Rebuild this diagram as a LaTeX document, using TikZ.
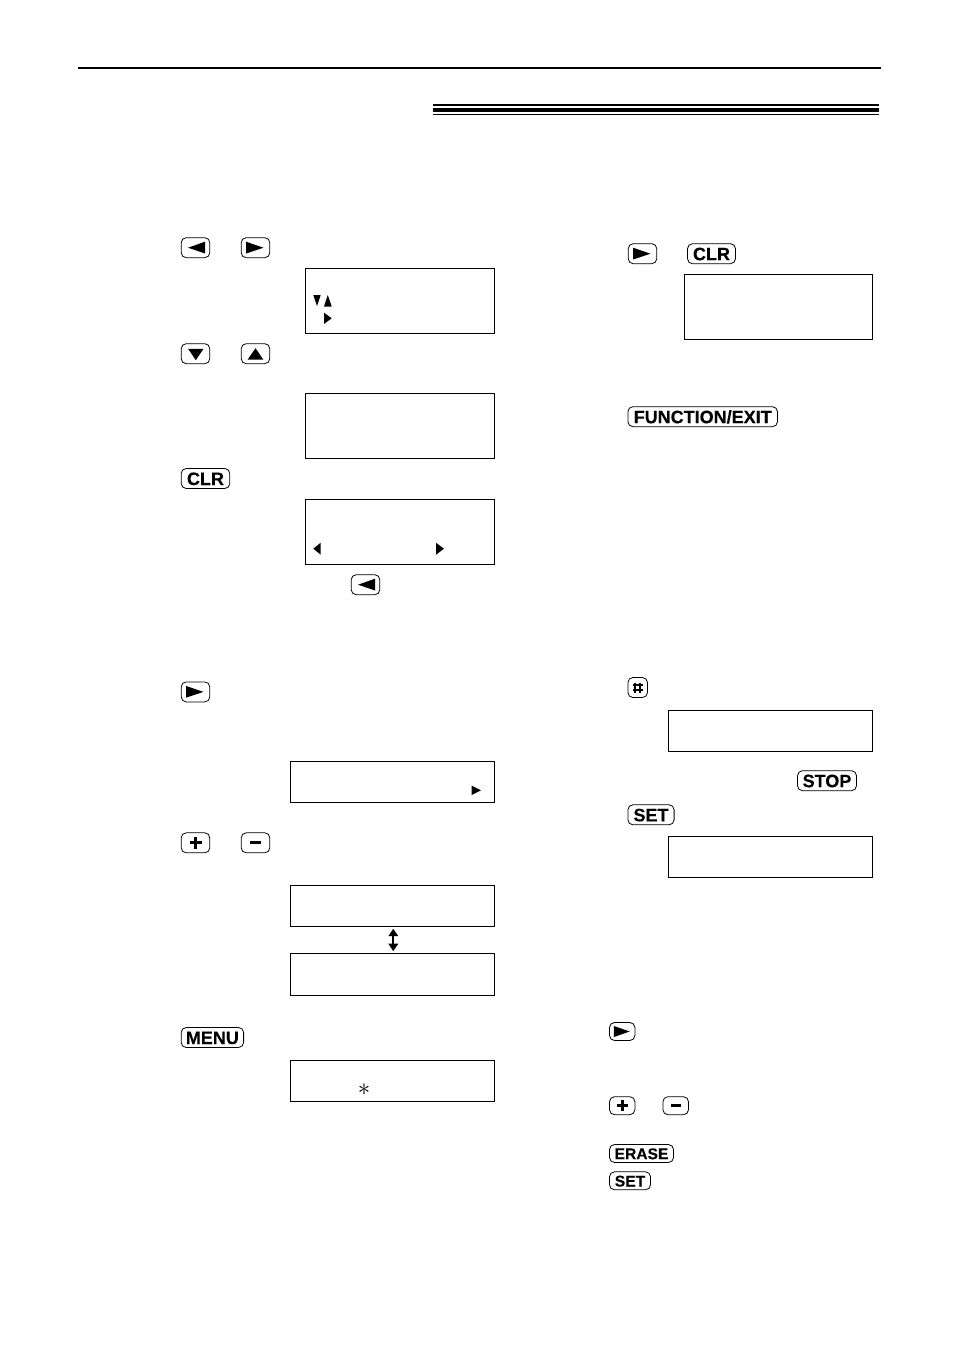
\documentclass[tikz,border=0pt]{standalone}
\usepackage{fontspec}
\setmainfont{Liberation Sans}
\newfontface\keyfont{Liberation Sans Bold}[FakeBold=0.3]
\usetikzlibrary{arrows.meta}

\tikzstyle{lcd}=[draw,line width=1pt,inner sep=0pt]
\tikzstyle{key}=[draw,line width=0.8pt,rounded corners=5pt,inner sep=0pt,minimum height=20pt,text height=13pt,text depth=0pt,font=\fontsize{18}{18}\keyfont]
\tikzstyle{small key}=[key,minimum height=18pt,text height=11.4pt,font=\fontsize{15.6}{16}\keyfont]
\tikzstyle{swap edge}=[draw,line width=2pt,{Triangle[width=9.5pt,length=7.5pt]}-{Triangle[width=9.5pt,length=7.5pt]},shorten <=1.6pt,shorten >=1.6pt]

\begin{document}
\begin{tikzpicture}[x=1pt,y=-1pt]
	\useasboundingbox (0,0) rectangle (954,1349);
	% Rules at the head of the page
	\fill (78,67) rectangle (881,69);
	\fill (433,104) rectangle (879,106);
	\fill (433,108) rectangle (879,112);
	\fill (433,114) rectangle (879,115);
	% First we draw the displays
	\node[lcd,minimum width=189.6pt,minimum height=65.6pt] (lcda) at (399.8,300.8) {};
	\node[lcd,minimum width=189.6pt,minimum height=65.6pt] (lcdb) at (399.8,425.8) {};
	\node[lcd,minimum width=189.6pt,minimum height=65.6pt] (lcdc) at (399.8,531.8) {};
	\node[lcd,minimum width=204.6pt,minimum height=41.6pt] (lcdd) at (392.3,781.8) {};
	\node[lcd,minimum width=204.6pt,minimum height=41.6pt] (lcde) at (392.3,905.8) {};
	\node[lcd,minimum width=204.6pt,minimum height=42.1pt] (lcdf) at (392.3,974.3) {};
	\node[lcd,minimum width=204.6pt,minimum height=41.6pt] (lcdg) at (392.3,1080.8) {};
	\node[lcd,minimum width=188.6pt,minimum height=65.6pt] (lcdh) at (778.3,306.8) {};
	\node[lcd,minimum width=204.6pt,minimum height=41.6pt] (lcdi) at (770.3,730.8) {};
	\node[lcd,minimum width=204.6pt,minimum height=41.6pt] (lcdj) at (770.3,856.8) {};
	% Keys of the left column
	\node[key,minimum width=28.6pt] (keya) at (195.5,247.7) {};
	\node[key,minimum width=28.6pt] (keyb) at (255.5,247.7) {};
	\node[key,minimum width=28.6pt] (keyc) at (195.5,353.7) {};
	\node[key,minimum width=28.6pt] (keyd) at (255.5,353.7) {};
	\node[key,minimum width=48.6pt] (keye) at (205.5,478.5) {CLR};
	\node[key,minimum width=28.6pt] (keyf) at (365.5,584.7) {};
	\node[key,minimum width=28.6pt] (keyg) at (195.5,691.9) {};
	\node[key,minimum width=28.6pt] (keyh) at (195.5,842.8) {};
	\node[key,minimum width=28.6pt] (keyi) at (255.5,842.8) {};
	\node[key,minimum width=62.4pt] (keyj) at (212.4,1037.5) {MENU};
	% Keys of the right column
	\node[key,minimum width=28.6pt] (keyk) at (642.5,253.7) {};
	\node[key,minimum width=48pt] (keyl) at (711.5,253.7) {CLR};
	\node[key,minimum width=149.6pt] (keym) at (702.7,416.7) {FUNCTION/EXIT};
	\node[key,minimum width=19.6pt] (keyn) at (637.7,687.5) {};
	\node[key,minimum width=59pt] (keyo) at (827,780.7) {STOP};
	\node[key,minimum width=46.2pt] (keyp) at (651,814.8) {SET};
	\node[small key,minimum width=25.4pt] (keyq) at (622.2,1031.5) {};
	\node[small key,minimum width=25.4pt] (keyr) at (622.2,1105.7) {};
	\node[small key,minimum width=25.6pt] (keys) at (675.7,1105.7) {};
	\node[small key,minimum width=64pt] (keyt) at (641.5,1153.5) {ERASE};
	\node[small key,minimum width=41pt] (keyu) at (630,1180.8) {SET};
	% Glyphs on the keys
	\foreach \source in {keya,keyf}
		\fill[shift={(\source)}] (-7.4,0) -- (9.5,-6) -- (9.5,5.8) -- cycle;
	\foreach \source in {keyb,keyg,keyk}
		\fill[shift={(\source)}] (-9.5,-6) -- (8,0) -- (-9.5,5.8) -- cycle;
	\fill[shift={(keyq)}] (-8.3,-5.5) -- (7.5,0) -- (-8.3,5.5) -- cycle;
	\fill[shift={(keyc)}] (-7.4,-4.9) -- (8,-4.9) -- (0.3,6.5) -- cycle;
	\fill[shift={(keyd)}] (-7.8,5.9) -- (7.8,5.9) -- (0,-5.5) -- cycle;
	\foreach \source/\len in {keyh/6,keyr/5.5}
		\draw[line width=2.8pt,shift={(\source)}] (-\len,0) -- (\len,0) (0,-\len) -- (0,\len);
	\foreach \source/\len in {keyi/5.7,keys/5}
		\draw[line width=2.8pt,shift={(\source)}] (-\len,0) -- (\len,0);
	\draw[line width=1.6pt,shift={(keyn)}] (-2.5,-5) -- (-2.5,5) (2.5,-5) -- (2.5,5) (-5,-2.5) -- (5,-2.5) (-5,2.5) -- (5,2.5);
	% Marks inside the displays
	\fill (313.3,295) -- (320.7,295) -- (317,306) -- cycle;
	\fill (324,306.5) -- (331.7,306.5) -- (327.8,295) -- cycle;
	\fill (324,312.7) -- (331.7,318.3) -- (324,324) -- cycle;
	\fill (320.7,542.7) -- (313.3,548.7) -- (320.7,554.7) -- cycle;
	\fill (436,542.7) -- (444,548.7) -- (436,554.7) -- cycle;
	\fill (471.7,785.7) -- (481,790.3) -- (471.7,795) -- cycle;
	\node[inner sep=0pt,font=\fontsize{28}{28}\selectfont] (star) at (364,1089.5) {$\ast$};
	% Connect the two displays
	\path[swap edge] ([xshift=1pt]lcde.south) to ([xshift=1pt]lcdf.north);
\end{tikzpicture}
\end{document}
